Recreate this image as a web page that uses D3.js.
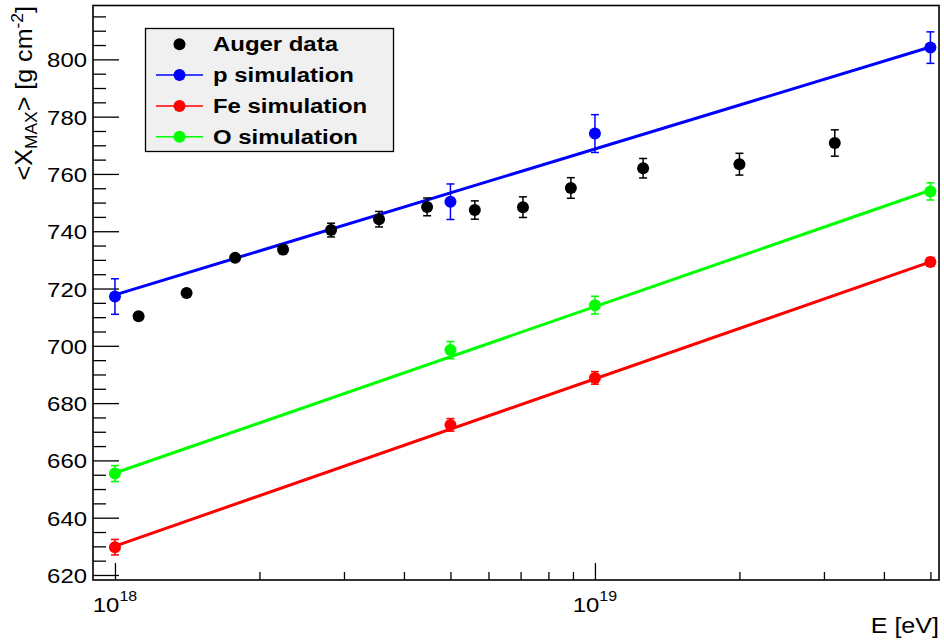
<!DOCTYPE html>
<html>
<head>
<meta charset="utf-8">
<script src="https://cdn.jsdelivr.net/npm/d3@7"></script>
<style>
  html, body { margin: 0; padding: 0; background: #fff; }
  text { font-family: "Liberation Sans", Arial, Helvetica, sans-serif; fill: #000; }
</style>
</head>
<body>
<svg id="chart" width="944" height="644"></svg>
<script>
// Measured <Xmax> versus energy (Auger) and simulated primaries
const augerEnergy = [1.12e18, 1.41e18, 1.78e18, 2.24e18, 2.82e18, 3.55e18, 4.47e18,
                     5.62e18, 7.08e18, 8.91e18, 1.26e19, 2.0e19, 3.16e19];
const augerXmax   = [710.3, 718.4, 730.7, 733.6, 740.4, 744.2, 748.5,
                     747.4, 748.4, 755.1, 762.0, 763.4, 770.8];
const augerErr    = [1.0, 1.0, 1.2, 1.5, 2.4, 2.7, 3.1, 3.2, 3.6, 3.6, 3.4, 3.8, 4.6];

const simEnergy = [1e18, 5e18, 1e19, 5e19];
const pXmax  = [717.2, 750.3, 774.1, 804.1];
const pErr   = [6.2, 6.2, 6.6, 5.5];
const feXmax = [629.7, 672.4, 688.8, 729.3];
const feErr  = [2.7, 2.2, 2.2, 1.5];
const oXmax  = [655.4, 698.5, 714.2, 753.9];
const oErr   = [2.8, 3.0, 3.1, 3.0];

// Linear-in-log(E) fits, evaluated at the ends of the fit range
const fitEnergy = [1e18, 5e19];
const pFit  = [717.8, 804.3];
const feFit = [630.1, 729.3];
const oFit  = [655.6, 754.3];

const yMajorTicks = [620, 640, 660, 680, 700, 720, 740, 760, 780, 800];
const xMajorTicks = [1e18, 1e19];
const xMajorExp   = ["18", "19"];
const xMinorTicks = [2e18, 3e18, 4e18, 5e18, 6e18, 7e18, 8e18, 9e18, 2e19, 3e19, 4e19, 5e19];

const legendLabels = ["Auger data", "p simulation", "Fe simulation", "O simulation"];
const legendColors = ["#000000", "#0000ff", "#ff0000", "#00ff00"];

// ---- layout ----
const frame = { left: 93, right: 939, top: 5.5, bottom: 580 };
const STRETCH = 1.14;   // horizontal glyph stretch of the label font

const svg = d3.select("#chart");

const x = d3.scaleLog().domain([9e17, 5.21e19]).range([frame.left, frame.right]);
const y = d3.scaleLinear().domain([618.25, 818.8]).range([frame.bottom, frame.top]);

// y axis ticks (pointing into the frame)
const yMinor = d3.range(620, 818, 5).filter(v => v % 20 !== 0);
const gyMinor = svg.append("g").attr("transform", `translate(${frame.left},0)`)
  .call(d3.axisLeft(y).tickValues(yMinor).tickSize(-13).tickFormat(""));
const gyMajor = svg.append("g").attr("transform", `translate(${frame.left},0)`)
  .call(d3.axisLeft(y).tickValues(yMajorTicks).tickSize(-26).tickPadding(6).tickFormat(d3.format("d")));
[gyMinor, gyMajor].forEach(g => {
  g.select(".domain").remove();
  g.selectAll(".tick line").attr("stroke", "#000").attr("stroke-width", 1.3);
});
gyMajor.selectAll(".tick text")
  .attr("font-size", 21).attr("fill", "#000")
  .attr("font-family", "Liberation Sans, Arial, sans-serif")
  .attr("x", null).attr("dy", null)
  .attr("dominant-baseline", "central")
  .attr("transform", `translate(-6,0.5) scale(${STRETCH},1)`);

// x axis ticks (pointing up into the frame)
const gxMinor = svg.append("g").attr("transform", `translate(0,${frame.bottom})`)
  .call(d3.axisBottom(x).tickValues(xMinorTicks).tickSize(-8).tickFormat(""));
const gxMajor = svg.append("g").attr("transform", `translate(0,${frame.bottom})`)
  .call(d3.axisBottom(x).tickValues(xMajorTicks).tickSize(-17).tickFormat(""));
[gxMinor, gxMajor].forEach(g => {
  g.select(".domain").remove();
  g.selectAll(".tick line").attr("stroke", "#000").attr("stroke-width", 1.3);
});

// x tick labels as powers of ten
xMajorTicks.forEach((v, i) => {
  const t = svg.append("text")
    .attr("text-anchor", "middle")
    .attr("transform", `translate(${x(v)},612) scale(${STRETCH},1)`)
    .attr("font-size", 21);
  t.append("tspan").text("10");
  t.append("tspan").attr("font-size", 14).attr("dy", -11).text(xMajorExp[i]);
});

// frame
svg.append("rect")
  .attr("x", frame.left).attr("y", frame.top)
  .attr("width", frame.right - frame.left).attr("height", frame.bottom - frame.top)
  .attr("fill", "none").attr("stroke", "#000").attr("stroke-width", 1.6);

// axis titles
svg.append("text")
  .attr("text-anchor", "end")
  .attr("font-size", 22)
  .attr("transform", `translate(939,633) scale(${STRETCH},1)`)
  .text("E [eV]");

const yt = svg.append("text")
  .attr("text-anchor", "end")
  .attr("font-size", 23)
  .attr("transform", `translate(32,6) rotate(-90) scale(1.09,1)`);
yt.append("tspan").text("<X");
yt.append("tspan").attr("font-size", 16).attr("dy", 5).text("MAX");
yt.append("tspan").attr("dy", -5).text("> [g cm");
yt.append("tspan").attr("font-size", 16).attr("dy", -9).text("-2");
yt.append("tspan").attr("dy", 9).text("]");

// ---- series ----
const plot = svg.append("g");
const line = d3.line().x(d => x(d[0])).y(d => y(d[1]));

function drawFit(values, color) {
  plot.append("path")
    .datum(fitEnergy.map((e, i) => [e, values[i]]))
    .attr("d", line)
    .attr("fill", "none").attr("stroke", color).attr("stroke-width", 3);
}

function drawPoints(energies, values, errs, color) {
  const g = plot.append("g");
  const pts = energies.map((e, i) => ({ e, v: values[i], err: errs[i] }));
  const eb = g.selectAll("g.err").data(pts).join("g").attr("class", "err")
    .attr("stroke", color).attr("stroke-width", 1.5);
  eb.append("line")
    .attr("x1", d => x(d.e)).attr("x2", d => x(d.e))
    .attr("y1", d => y(d.v - d.err)).attr("y2", d => y(d.v + d.err));
  eb.append("line")
    .attr("x1", d => x(d.e) - 4).attr("x2", d => x(d.e) + 4)
    .attr("y1", d => y(d.v - d.err)).attr("y2", d => y(d.v - d.err));
  eb.append("line")
    .attr("x1", d => x(d.e) - 4).attr("x2", d => x(d.e) + 4)
    .attr("y1", d => y(d.v + d.err)).attr("y2", d => y(d.v + d.err));
  g.selectAll("circle").data(pts).join("circle")
    .attr("cx", d => x(d.e)).attr("cy", d => y(d.v))
    .attr("r", 6).attr("fill", color);
}

drawFit(feFit, "#ff0000");
drawPoints(simEnergy, feXmax, feErr, "#ff0000");
drawFit(oFit, "#00ff00");
drawPoints(simEnergy, oXmax, oErr, "#00ff00");
drawFit(pFit, "#0000ff");
drawPoints(simEnergy, pXmax, pErr, "#0000ff");
drawPoints(augerEnergy, augerXmax, augerErr, "#000000");

// ---- legend ----
const legend = svg.append("g");
legend.append("rect")
  .attr("x", 145.5).attr("y", 28.5).attr("width", 248).attr("height", 123)
  .attr("fill", "#f0f0f0").attr("stroke", "#000").attr("stroke-width", 1.3);

legendLabels.forEach((label, i) => {
  const cy = 44.3 + i * 30.8;
  if (i > 0) {
    legend.append("line")
      .attr("x1", 156).attr("x2", 203).attr("y1", cy).attr("y2", cy)
      .attr("stroke", legendColors[i]).attr("stroke-width", 1.5);
  }
  legend.append("circle").attr("cx", 179.5).attr("cy", cy).attr("r", 6)
    .attr("fill", legendColors[i]);
  legend.append("text")
    .attr("font-size", 21).attr("font-weight", "bold")
    .attr("transform", `translate(213,${cy + 6.8}) scale(${STRETCH},1)`)
    .text(label);
});
</script>
</body>
</html>
